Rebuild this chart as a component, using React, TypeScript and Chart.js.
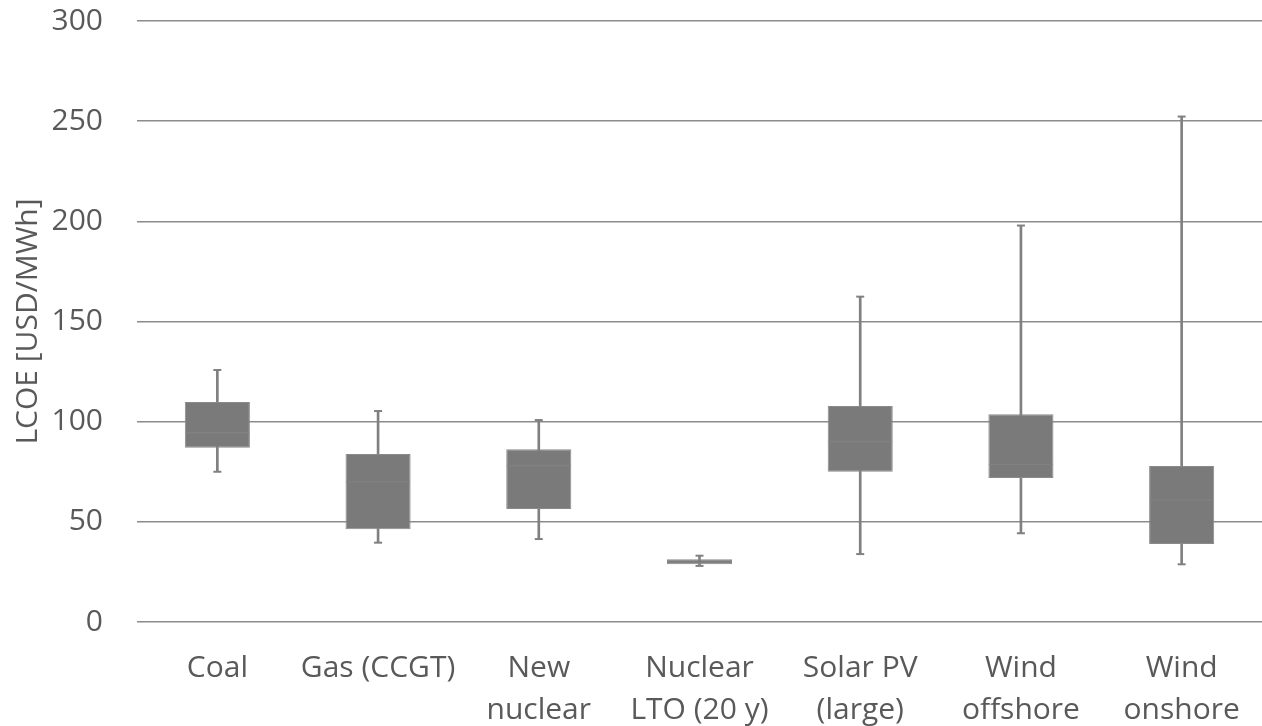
import React, { useEffect, useRef } from "react";
import { Chart, registerables } from "chart.js";

Chart.register(...registerables);

const categories: string[][] = [
  ["Coal"],
  ["Gas (CCGT)"],
  ["New", "nuclear"],
  ["Nuclear", "LTO (20 y)"],
  ["Solar PV", "(large)"],
  ["Wind", "offshore"],
  ["Wind", "onshore"],
];
const minValues = [75, 39.6, 41.4, 28.0, 33.9, 44.3, 28.8];
const q1Values = [87.0, 46.3, 56.4, 28.8, 75.0, 71.9, 38.9];
const medianValues = [94.5, 69.9, 78.0, 29.8, 90.0, 78.7, 60.9];
const q3Values = [109.8, 83.9, 86.2, 31.3, 107.8, 103.7, 77.9];
const maxValues = [125.8, 105.3, 100.8, 33.1, 162.4, 197.9, 252.3];
const yTicks = [0, 50, 100, 150, 200, 250, 300];

const BOX = "#7a7a7a";
const LINE = "#808080";

export default function App() {
  const ref = useRef<HTMLCanvasElement | null>(null);
  useEffect(() => {
    if (!ref.current) return;
    const font = "'Open Sans', 'DejaVu Sans', sans-serif";
    const chart = new Chart(ref.current, {
      type: "bar",
      data: {
        labels: categories,
        datasets: [
          {
            type: "line",
            label: "median",
            data: medianValues,
            showLine: false,
            pointStyle: "line",
            pointRadius: 32,
            pointHoverRadius: 32,
            pointBorderWidth: 1,
            borderColor: "#848484",
            backgroundColor: "#848484",
            order: 0,
          } as any,
          {
            type: "line",
            label: "max",
            data: maxValues,
            showLine: false,
            pointStyle: "line",
            pointRadius: 4,
            pointHoverRadius: 4,
            pointBorderWidth: 2,
            borderColor: LINE,
            backgroundColor: LINE,
            order: 1,
          } as any,
          {
            type: "line",
            label: "min",
            data: minValues,
            showLine: false,
            pointStyle: "line",
            pointRadius: 4,
            pointHoverRadius: 4,
            pointBorderWidth: 2,
            borderColor: LINE,
            backgroundColor: LINE,
            order: 1,
          } as any,
          {
            type: "bar",
            label: "box",
            data: q1Values.map((q, i) => [q, q3Values[i]]),
            backgroundColor: BOX,
            borderColor: "#8a8a8a",
            borderWidth: 1,
            borderSkipped: false,
            grouped: false,
            barPercentage: 0.405,
            categoryPercentage: 1,
            order: 2,
          } as any,
          {
            type: "bar",
            label: "whisker",
            data: minValues.map((m, i) => [m, maxValues[i]]),
            backgroundColor: LINE,
            borderWidth: 0,
            grouped: false,
            barThickness: 2,
            order: 3,
          } as any,
        ],
      },
      options: {
        animation: false,
        responsive: false,
        maintainAspectRatio: false,
        layout: { autoPadding: false, padding: { top: 21, right: 0, left: 0, bottom: 0 } },
        plugins: {
          legend: { display: false },
          tooltip: { enabled: false },
          title: { display: false },
        },
        scales: {
          x: {
            grid: { display: false },
            border: { display: false },
            afterFit: (axis: any) => {
              axis.height = 104;
              axis.paddingLeft = 0;
              axis.paddingRight = 0;
            },
            ticks: {
              color: "#595959",
              font: { family: font, size: 30, lineHeight: 1.4 },
              padding: 17,
              maxRotation: 0,
              autoSkip: false,
            },
          },
          y: {
            min: 0,
            max: 300,
            afterBuildTicks: (axis: any) => {
              axis.ticks = yTicks.map((v) => ({ value: v }));
            },
            afterFit: (axis: any) => {
              axis.width = 137;
              axis.paddingTop = 0;
              axis.paddingBottom = 0;
            },
            grid: { color: "#8c8c8c", lineWidth: 1.5, drawTicks: false },
            border: { display: false },
            ticks: {
              color: "#595959",
              font: { family: font, size: 30 },
              padding: 34,
            },
            title: {
              display: true,
              text: "LCOE [USD/MWh]",
              color: "#595959",
              font: { family: font, size: 30 },
              padding: { top: 10, bottom: 0 },
            },
          },
        },
      } as any,
    });
    return () => chart.destroy();
  }, []);
  return (
    <div style={{ position: "fixed", left: 0, top: 0, width: 1262, height: 726, background: "#fff" }}>
      <canvas ref={ref} width={1262} height={726} style={{ width: 1262, height: 726 }} />
    </div>
  );
}
